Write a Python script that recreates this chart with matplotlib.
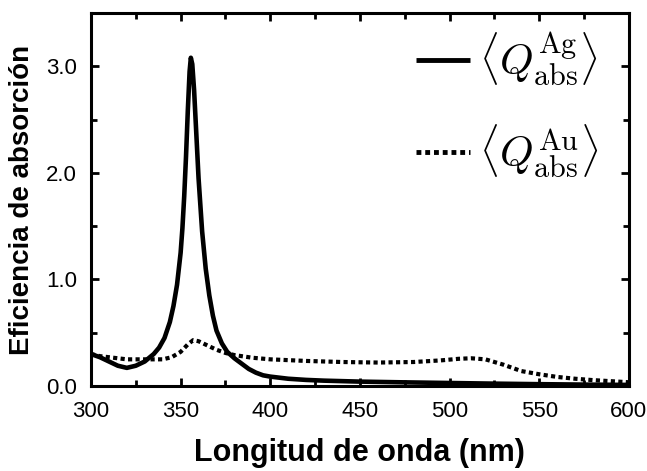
import matplotlib
matplotlib.use("Agg")
import matplotlib.pyplot as plt
from matplotlib.ticker import MultipleLocator, FormatStrFormatter

plt.rcParams['font.family'] = ['Liberation Sans', 'DejaVu Sans']
plt.rcParams['mathtext.fontset'] = 'cm'

wl_ag = [300, 305, 310, 315, 320, 325, 330, 335, 338, 341, 344, 346, 348, 350, 351, 352, 353, 354, 355,
         355.7, 356.5, 357.5, 358.5, 360, 362, 364, 366, 368, 370, 373, 376, 380, 384, 388, 392, 396, 400,
         410, 420, 430, 450, 475, 500, 525, 550, 575, 600]
q_ag = [0.30, 0.27, 0.23, 0.19, 0.17, 0.19, 0.23, 0.30, 0.36, 0.45, 0.60, 0.75, 0.95, 1.25, 1.48, 1.78, 2.15, 2.58, 2.95,
        3.08, 3.02, 2.78, 2.45, 1.95, 1.45, 1.10, 0.85, 0.66, 0.52, 0.40, 0.32, 0.26, 0.21, 0.16, 0.125, 0.10, 0.088,
        0.068, 0.057, 0.050, 0.041, 0.034, 0.028, 0.022, 0.017, 0.013, 0.010]

wl_au = [300, 305, 310, 315, 320, 330, 340, 345, 350, 354, 357, 360, 365, 370, 375, 380, 390, 400, 420, 440,
         460, 480, 495, 505, 512, 520, 530, 540, 550, 560, 570, 580, 590, 600]
q_au = [0.30, 0.28, 0.27, 0.26, 0.25, 0.25, 0.25, 0.27, 0.32, 0.39, 0.43, 0.42, 0.38, 0.34, 0.31, 0.29, 0.265, 0.25,
        0.235, 0.225, 0.22, 0.225, 0.24, 0.255, 0.26, 0.25, 0.20, 0.14, 0.11, 0.085, 0.068, 0.055, 0.045, 0.035]

label_ag = r'$\langle Q^{\rm Ag}_{\rm abs}\rangle$'
label_au = r'$\langle Q^{\rm Au}_{\rm abs}\rangle$'

fig = plt.figure(figsize=(6.47, 4.71), dpi=100)
ax = fig.add_axes([0.1406, 0.1805, 0.8314, 0.7919])

ax.plot(wl_ag, q_ag, color='black', lw=3.3, solid_capstyle='butt', label=label_ag)
ax.plot(wl_au, q_au, color='black', lw=3.0, linestyle=(0, (1, 0.8)), label=label_au)

ax.set_xlim(300, 600)
ax.set_ylim(0, 3.5)
ax.xaxis.set_major_locator(MultipleLocator(50))
ax.xaxis.set_minor_locator(MultipleLocator(25))
ax.yaxis.set_major_locator(MultipleLocator(1.0))
ax.yaxis.set_minor_locator(MultipleLocator(0.5))
ax.yaxis.set_major_formatter(FormatStrFormatter('%.1f'))

for s in ax.spines.values():
    s.set_linewidth(2.2)
ax.tick_params(which='both', direction='in', top=True, right=True, width=2.0, labelsize=16)
ax.tick_params(axis='x', pad=11)
ax.tick_params(axis='y', pad=10)
ax.tick_params(which='major', length=6)
ax.tick_params(which='minor', length=4)

ax.set_xlabel('Longitud de onda (nm)', fontsize=22, fontweight='bold', labelpad=11)
ax.set_ylabel('Eficiencia de absorción', fontsize=20, fontweight='bold', labelpad=8)

leg = ax.legend(loc='upper right', bbox_to_anchor=(0.975, 1.0), frameon=False, fontsize=31,
                handlelength=1.25, labelspacing=0.8, handletextpad=0.2, borderaxespad=0.0)
for h in leg.legend_handles:
    h.set_linewidth(3.5)

fig.savefig('out.png', dpi=100)
